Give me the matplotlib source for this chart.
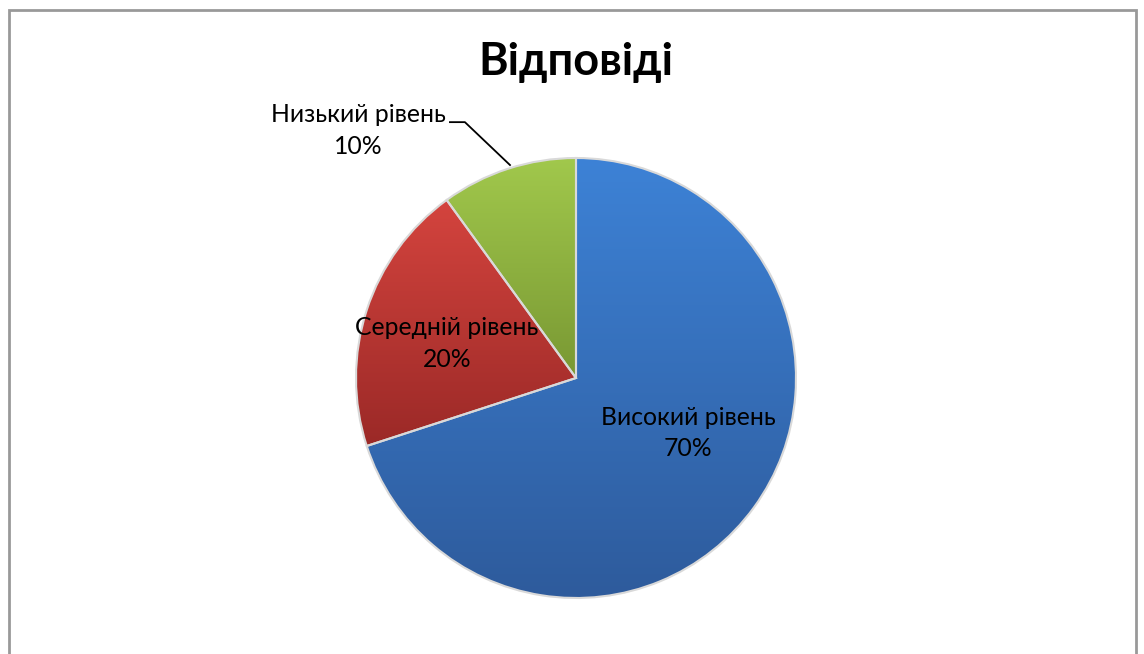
import numpy as np
import matplotlib.pyplot as plt
from matplotlib.colors import LinearSegmentedColormap
from matplotlib.patches import Rectangle

plt.rcParams['font.family'] = ['Lato', 'DejaVu Sans']

title = "Відповіді"
labels = ["Високий рівень", "Середній рівень", "Низький рівень"]
sizes = [70, 20, 10]
# gradient colours per slice (top, bottom)
top_colors = ['#3d82d6', '#d4443e', '#a1c84c']
bottom_colors = ['#2e5b9c', '#9b2927', '#799833']

fig = plt.figure(figsize=(11.44, 6.54), dpi=100)

# chart area border (bottom edge is off the picture)
fig.patches.append(Rectangle((9 / 1144, -0.05), 1127 / 1144, (644 / 654) + 0.05,
                             transform=fig.transFigure, fill=False,
                             edgecolor='#999999', linewidth=2))

ax = fig.add_axes([(576 - 220) / 1144, (654 - 598) / 654, 440 / 1144, 440 / 654])
wedges, _ = ax.pie(sizes, startangle=90, counterclock=False, radius=1,
                   wedgeprops=dict(edgecolor='#d9d9d9', linewidth=1.5))
ax.set_aspect('equal')
ax.axis('off')

# vertical gradient inside each wedge
for w, c1, c2 in zip(wedges, top_colors, bottom_colors):
    ext = w.get_path().get_extents(w.get_patch_transform())
    cmap = LinearSegmentedColormap.from_list('g', [c2, c1])
    grad = np.linspace(0, 1, 256).reshape(-1, 1)
    im = ax.imshow(grad, cmap=cmap, origin='lower', aspect='auto',
                   extent=[ext.x0, ext.x1, ext.y0, ext.y1], zorder=w.get_zorder())
    im.set_clip_path(w)
    w.set_facecolor('none')
    w.set_zorder(w.get_zorder() + 1)
ax.set_xlim(-1, 1)
ax.set_ylim(-1, 1)

fs = 17.8
ls = 1.45
ax.text(0.509, -0.25, f"{labels[0]}\n{sizes[0]}%", ha='center', va='center',
        fontsize=fs, linespacing=ls)
ax.text(-0.586, 0.158, f"{labels[1]}\n{sizes[1]}%", ha='center', va='center',
        fontsize=fs, linespacing=ls)
ax.text(-0.991, 1.126, f"{labels[2]}\n{sizes[2]}%", ha='center', va='center',
        fontsize=fs, linespacing=ls, clip_on=False)
# leader line for the small slice
ax.plot([-0.573, -0.505, -0.30], [1.163, 1.163, 0.968], color='black',
        linewidth=1.3, clip_on=False, zorder=5)

fig.text(576 / 1144, 1 - 62 / 654, title, ha='center', va='center',
         fontsize=32.5, fontweight='bold')

fig.savefig('out.png', dpi=100)
